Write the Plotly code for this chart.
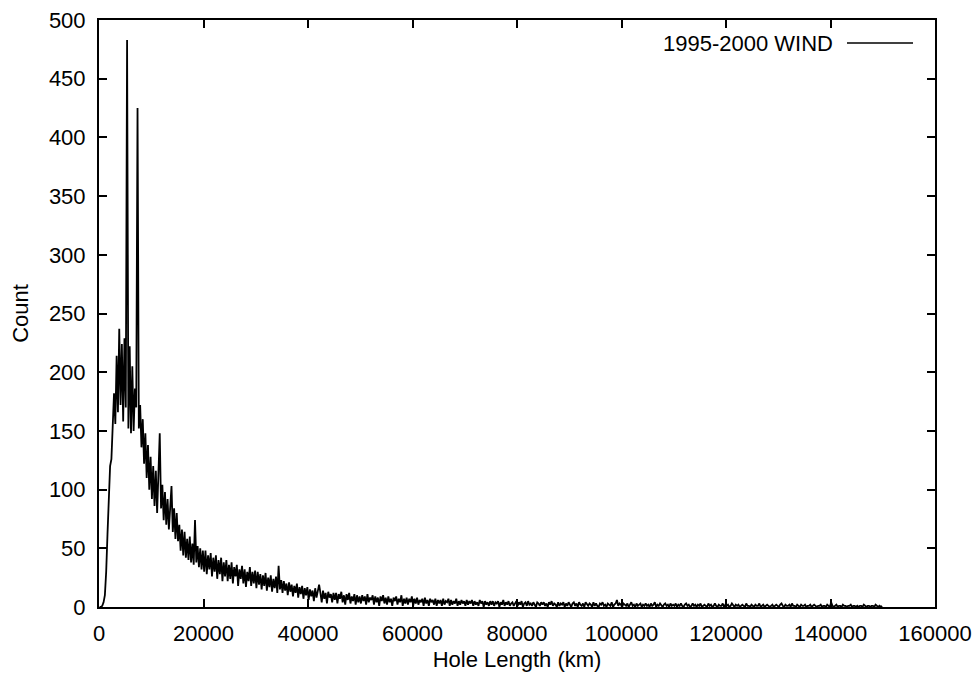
import plotly.graph_objects as go

# Histogram of solar-wind hole lengths, 250 km bins from 0 to 150000 km
bin_width_km = 250
counts = [
    0, 0, 1, 4, 10, 30, 62, 95, 120, 126, 150, 182, 156, 214, 166, 237, 172, 224, 158, 229,
    170, 483, 152, 222, 148, 205, 150, 186, 170, 425, 152, 172, 136, 160, 122, 148, 110, 138, 100, 128,
    92, 120, 86, 116, 80, 110, 148, 84, 104, 74, 98, 70, 92, 66, 88, 103, 64, 84, 58, 80,
    56, 70, 48, 66, 44, 64, 42, 58, 40, 60, 38, 54, 36, 74, 38, 52, 34, 50, 32, 48,
    30, 48, 28, 44, 32, 46, 26, 42, 30, 44, 24, 40, 28, 42, 22, 38, 26, 40, 22, 36,
    24, 38, 20, 34, 26, 36, 18, 32, 24, 35, 20, 32, 17, 30, 22, 34, 18, 30, 20, 31,
    16, 30, 19, 28, 15, 27, 18, 29, 14, 25, 17, 27, 13, 24, 16, 26, 12, 35, 15, 23,
    12, 22, 14, 20, 10, 21, 13, 19, 9, 18, 12, 20, 8, 17, 11, 18, 7, 16, 10, 17,
    6, 15, 9, 14, 5, 16, 8, 13, 19, 12, 4, 14, 7, 12, 3, 13, 8, 11, 4, 12,
    6, 12, 3, 11, 7, 13, 4, 10, 2, 11, 6, 12, 3, 9, 5, 11, 2, 10, 4, 9,
    3, 10, 5, 9, 2, 11, 4, 8, 6, 10, 2, 9, 4, 8, 1, 9, 5, 10, 3, 8,
    2, 9, 4, 7, 1, 8, 5, 9, 2, 7, 4, 10, 1, 7, 3, 8, 2, 7, 4, 9,
    1, 7, 3, 8, 2, 6, 4, 7, 1, 8, 3, 6, 1, 7, 4, 6, 2, 7, 1, 6,
    3, 6, 1, 7, 2, 5, 4, 7, 1, 6, 2, 5, 3, 7, 1, 5, 2, 6, 3, 5,
    1, 6, 2, 5, 3, 6, 1, 5, 2, 4, 1, 6, 3, 5, 0, 5, 2, 4, 1, 5,
    2, 5, 1, 4, 3, 5, 0, 4, 2, 6, 1, 4, 2, 5, 1, 3, 4, 1, 3, 5,
    1, 4, 2, 5, 0, 3, 4, 1, 5, 2, 3, 1, 4, 2, 0, 4, 3, 1, 4, 2,
    4, 1, 3, 0, 4, 2, 5, 1, 3, 2, 0, 4, 1, 3, 2, 4, 0, 3, 1, 4,
    2, 0, 3, 4, 1, 3, 0, 4, 2, 1, 3, 0, 4, 2, 1, 3, 2, 0, 4, 1,
    3, 1, 0, 3, 2, 4, 1, 2, 0, 3, 2, 1, 4, 0, 2, 3, 6, 1, 3, 2,
    0, 3, 2, 1, 3, 0, 2, 4, 1, 2, 0, 3, 1, 2, 3, 0, 2, 1, 3, 1,
    2, 0, 3, 1, 2, 4, 0, 2, 1, 3, 1, 0, 2, 3, 1, 2, 0, 3, 1, 2,
    1, 3, 0, 2, 1, 3, 1, 0, 2, 3, 1, 2, 0, 1, 3, 1, 2, 0, 2, 1,
    3, 0, 1, 2, 1, 0, 3, 1, 2, 0, 1, 3, 1, 0, 2, 1, 1, 3, 0, 2,
    1, 2, 0, 1, 3, 1, 0, 2, 1, 2, 0, 1, 2, 1, 0, 3, 1, 1, 0, 2,
    1, 0, 2, 1, 1, 3, 0, 1, 2, 0, 1, 2, 1, 0, 1, 2, 0, 1, 2, 1,
    0, 2, 3, 1, 0, 2, 1, 1, 2, 0, 3, 1, 1, 0, 2, 1, 0, 2, 1, 1,
    2, 0, 1, 1, 2, 0, 1, 2, 1, 0, 1, 1, 2, 0, 1, 1, 0, 2, 1, 0,
    4, 1, 0, 1, 2, 0, 1, 1, 0, 2, 1, 1, 0, 1, 1, 2, 0, 1, 1, 0,
    1, 0, 1, 1, 0, 2, 1, 0, 1, 1, 0, 1, 1, 0, 2, 1, 0, 1, 0, 1,
]
hole_length_km = [i * bin_width_km + bin_width_km / 2 for i in range(len(counts))]

x_ticks = [0, 20000, 40000, 60000, 80000, 100000, 120000, 140000, 160000]
y_ticks = [0, 50, 100, 150, 200, 250, 300, 350, 400, 450, 500]
series_name = "1995-2000 WIND"

FONT = "Liberation Sans, Arial, sans-serif"
FS = 22

fig = go.Figure()
fig.add_trace(go.Scatter(
    x=hole_length_km, y=counts, mode="lines", name=series_name,
    line=dict(color="black", width=1.8), showlegend=False,
))

axis_common = dict(
    showline=True, linecolor="black", linewidth=2, mirror="ticks",
    ticks="inside", ticklen=8, tickwidth=1.5, tickcolor="black",
    showgrid=False, zeroline=False, automargin=False,
    tickfont=dict(family=FONT, size=FS, color="black"),
)

fig.update_layout(
    width=977, height=682,
    margin=dict(l=99, r=42, t=20, b=75),
    paper_bgcolor="white", plot_bgcolor="white",
    font=dict(family=FONT, size=FS, color="black"),
    xaxis=dict(
        range=[0, 160000], tickvals=x_ticks, ticktext=[str(v) for v in x_ticks],
        title=dict(text="Hole Length (km)", font=dict(family=FONT, size=FS), standoff=6),
        ticklabelstandoff=6,
        **axis_common,
    ),
    yaxis=dict(
        range=[0, 500], tickvals=y_ticks, ticktext=[str(v) for v in y_ticks],
        title=dict(text="Count", font=dict(family=FONT, size=FS), standoff=14),
        ticklabelstandoff=7,
        **axis_common,
    ),
)

# gnuplot-style key: label followed by the line sample, top right inside the frame
fig.add_annotation(
    x=0.8804, y=0.9608, xref="paper", yref="paper", text=series_name,
    showarrow=False, xanchor="right", yanchor="middle",
    font=dict(family=FONT, size=FS, color="black"),
)
fig.add_shape(
    type="line", xref="paper", yref="paper",
    x0=0.8947, x1=0.9737, y0=0.9608, y1=0.9608,
    line=dict(color="black", width=1.4),
)

fig.write_html("out.html")
